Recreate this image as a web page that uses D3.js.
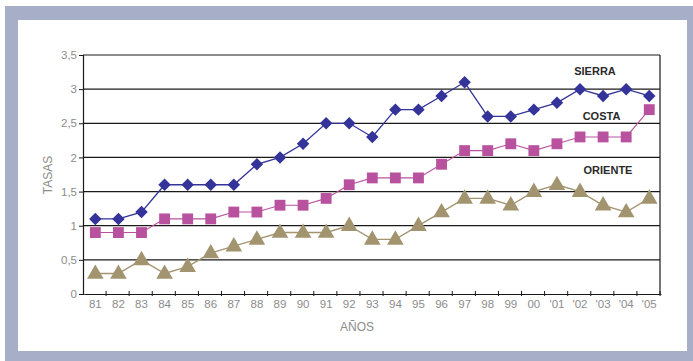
<!DOCTYPE html>
<html><head><meta charset="utf-8">
<script src="https://cdn.jsdelivr.net/npm/d3@7/dist/d3.min.js"></script>
<style>body{margin:0;background:#fff}svg{display:block}</style>
</head><body>
<script>
const years = ["81","82","83","84","85","86","87","88","89","90","91","92","93","94","95","96","97","98","99","00","'01","'02","'03","'04","'05"];
const sierra = [1.1,1.1,1.2,1.6,1.6,1.6,1.6,1.9,2.0,2.2,2.5,2.5,2.3,2.7,2.7,2.9,3.1,2.6,2.6,2.7,2.8,3.0,2.9,3.0,2.9];
const costa = [0.9,0.9,0.9,1.1,1.1,1.1,1.2,1.2,1.3,1.3,1.4,1.6,1.7,1.7,1.7,1.9,2.1,2.1,2.2,2.1,2.2,2.3,2.3,2.3,2.7];
const oriente = [0.3,0.3,0.5,0.3,0.4,0.6,0.7,0.8,0.9,0.9,0.9,1.0,0.8,0.8,1.0,1.2,1.4,1.4,1.3,1.5,1.6,1.5,1.3,1.2,1.4];
const yTicks = [0,0.5,1,1.5,2,2.5,3,3.5];
const seriesNames = ["SIERRA","COSTA","ORIENTE"];

const W=693,H=361;
const svg=d3.select("body").append("svg").attr("width",W).attr("height",H);
// frame
svg.append("rect").attr("x",5).attr("y",6).attr("width",W-5).attr("height",H-6).attr("fill","#a7aec8");
svg.append("rect").attr("x",18).attr("y",20).attr("width",687-18).attr("height",351-20).attr("fill","#fff");

const x=d3.scaleBand().domain(years).range([83,660]).padding(0);
const y=d3.scaleLinear().domain([0,3.5]).range([294,55]);
const cx=d=>x(d)+x.bandwidth()/2+0.8;

// gridlines
svg.append("g").selectAll("line").data(yTicks.filter(v=>v>0)).join("line")
  .attr("x1",83).attr("x2",660).attr("y1",d=>y(d)).attr("y2",d=>y(d))
  .attr("stroke","#1a1a1a").attr("stroke-width",1.2);
// right border
svg.append("line").attr("x1",660).attr("x2",660).attr("y1",y(3.5)).attr("y2",y(0)).attr("stroke","#1a1a1a").attr("stroke-width",1.2);

// y axis
const ya=svg.append("g").attr("transform","translate(83,0)")
  .call(d3.axisLeft(y).tickValues(yTicks).tickSize(4).tickFormat(d=>String(d).replace(".",",")));
ya.select(".domain").attr("stroke","#1a1a1a").attr("stroke-width",1.2);
ya.selectAll(".tick line").attr("stroke","#1a1a1a");
ya.selectAll("text").attr("fill","#8c8c8c").attr("font-family","Liberation Sans, Arial, sans-serif").attr("font-size",11.5).attr("x",-6);

// x axis
const xa=svg.append("g").attr("transform","translate(0.8,294)")
  .call(d3.axisBottom(x).tickSize(0).tickPadding(6));
xa.select(".domain").attr("stroke","#1a1a1a").attr("stroke-width",1.2);
xa.selectAll("text").attr("fill","#8c8c8c").attr("font-family","Liberation Sans, Arial, sans-serif").attr("font-size",11.5);
// boundary ticks
const bounds=years.map(d=>x(d)).concat([660]).slice(1);
svg.append("g").selectAll("line").data(bounds).join("line")
  .attr("x1",d=>d).attr("x2",d=>d).attr("y1",291).attr("y2",296)
  .attr("stroke","#1a1a1a").attr("stroke-width",1);

// axis titles
svg.append("text").attr("transform","translate(52,175) rotate(-90)").attr("text-anchor","middle")
  .attr("fill","#8c8c8c").attr("font-family","Liberation Sans, Arial, sans-serif").attr("font-size",12).text("TASAS");
svg.append("text").attr("x",357).attr("y",331).attr("text-anchor","middle")
  .attr("fill","#8c8c8c").attr("font-family","Liberation Sans, Arial, sans-serif").attr("font-size",12).text("AÑOS");

const line=d3.line().x((d,i)=>cx(years[i])).y(d=>y(d));
const defs=[
  {data:oriente,color:"#a39470",w:1.4,sym:d3.symbolTriangle,size:120,dy:0.5,rot:0},
  {data:costa,color:"#b8529f",w:1.1,sym:d3.symbolSquare,size:118,dy:0,rot:0},
  {data:sierra,color:"#333399",w:1.3,sym:d3.symbolSquare,size:78,dy:0,rot:45}
];
defs.forEach(s=>{
  svg.append("path").datum(s.data).attr("d",line).attr("fill","none").attr("stroke",s.color).attr("stroke-width",s.w);
  svg.append("g").selectAll("path").data(s.data).join("path")
    .attr("transform",(d,i)=>`translate(${cx(years[i])},${y(d)+s.dy}) rotate(${s.rot})`)
    .attr("d",d3.symbol().type(s.sym).size(s.size)).attr("fill",s.color);
});

// series labels
const labelPos=[[595,75],[601.5,120],[608,174]];
svg.append("g").selectAll("text").data(seriesNames).join("text")
  .attr("x",(d,i)=>labelPos[i][0]).attr("y",(d,i)=>labelPos[i][1]).attr("text-anchor","middle")
  .attr("font-family","Liberation Sans, Arial, sans-serif").attr("font-weight","bold").attr("font-size",11)
  .attr("fill","#2a2a2a").text(d=>d);
</script>
</body></html>
